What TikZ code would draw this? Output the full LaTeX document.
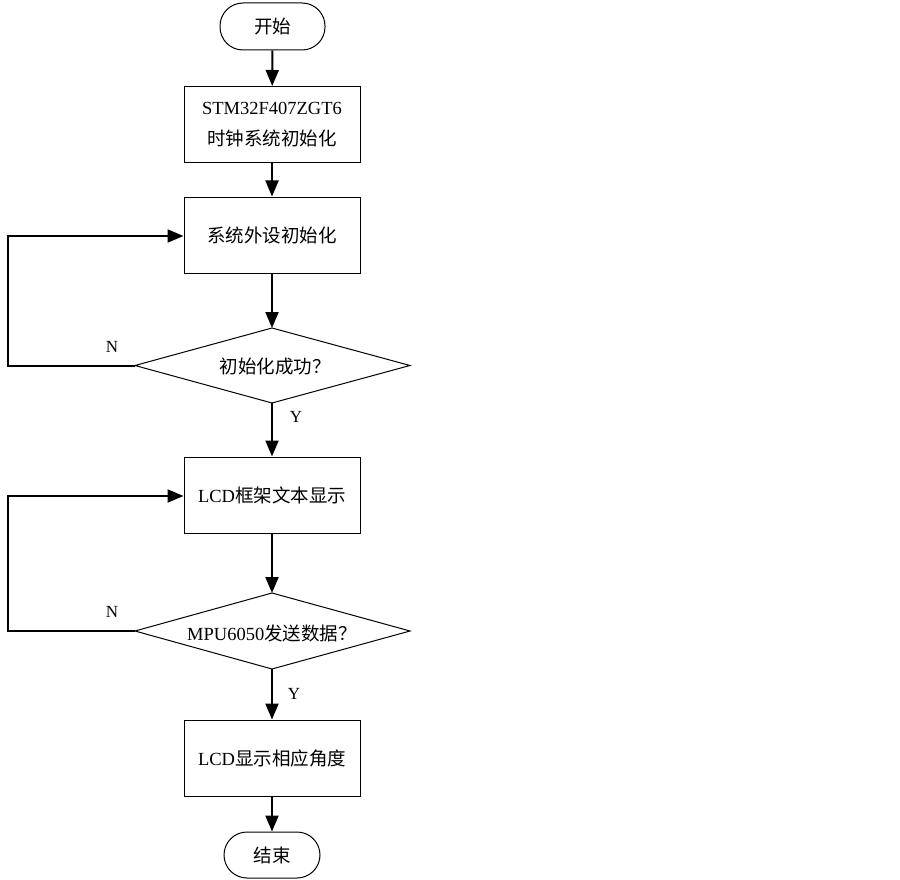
\documentclass[tikz,border=0pt]{standalone}
\usepackage{fontspec}
\setmainfont{Liberation Serif}
\newfontfamily\cjk{Noto Sans CJK SC}
\usetikzlibrary{arrows.meta}
\begin{document}
\begin{tikzpicture}[x=1pt,y=-1pt,
  boxstyle/.style={draw,line width=1pt,minimum width=176pt,minimum height=76pt,inner sep=0pt,align=center,font=\fontsize{18.5}{31}\selectfont},
  termstyle/.style={draw,line width=1pt,rounded corners=23pt,minimum height=47pt,inner sep=0pt,font=\fontsize{18.5}{22}\selectfont},
  txtstyle/.style={inner sep=0pt,font=\fontsize{18.5}{22}\selectfont},
  lblstyle/.style={inner sep=0pt,font=\fontsize{17}{18}\selectfont},
  flow/.style={line width=2pt,-{Triangle[width=13pt,length=16pt]}}]
\useasboundingbox (0,0) rectangle (900,880);
\node[termstyle,minimum width=105pt] (start) at (272.5,26.5) {{\cjk 开始}};
\node[boxstyle] (b1) at (272,124.5) {STM32F407ZGT6\\{\cjk 时钟系统初始化}};
\node[boxstyle] (b2) at (272,235) {{\cjk 系统外设初始化}};
% diamond 1
\coordinate (d1t) at (272,328);
\coordinate (d1r) at (410,365.5);
\coordinate (d1b) at (272,403);
\coordinate (d1l) at (135,365.5);
\draw[line width=1pt] (d1t) -- (d1r) -- (d1b) -- (d1l) -- cycle;
\node[txtstyle] (d1) at (275,367) {{\cjk 初始化成功？}};
\node[boxstyle] (b3) at (272,495) {LCD{\cjk 框架文本显示}};
% diamond 2
\coordinate (d2t) at (272,593);
\coordinate (d2r) at (410,631);
\coordinate (d2b) at (272,669);
\coordinate (d2l) at (135,631);
\draw[line width=1pt] (d2t) -- (d2r) -- (d2b) -- (d2l) -- cycle;
\node[txtstyle] (d2) at (272,633) {MPU6050{\cjk 发送数据？}};
\node[boxstyle] (b4) at (272,758) {LCD{\cjk 显示相应角度}};
\node[termstyle,minimum width=96pt,minimum height=46pt] (stop) at (272,855) {{\cjk 结束}};
% connectors
\draw[flow] (start) -- (b1);
\draw[flow] (b1) -- (b2);
\draw[flow] (b2) -- (d1t);
\draw[flow] (d1b) -- (b3);
\draw[flow] (b3) -- (d2t);
\draw[flow] (d2b) -- (b4);
\draw[flow] (b4) -- (stop);
\coordinate (l1a) at (8,365.5);
\coordinate (l1b) at (8,236);
\draw[flow] (d1l) -- (l1a) -- (l1b) -- (b2.west |- l1b);
\coordinate (l2a) at (8,631);
\coordinate (l2b) at (8,496);
\draw[flow] (d2l) -- (l2a) -- (l2b) -- (b3.west |- l2b);
% labels
\node[lblstyle] (n1) at (112,347) {N};
\node[lblstyle] (y1) at (296,417) {Y};
\node[lblstyle] (n2) at (112,612) {N};
\node[lblstyle] (y2) at (294,694) {Y};
\end{tikzpicture}
\end{document}
